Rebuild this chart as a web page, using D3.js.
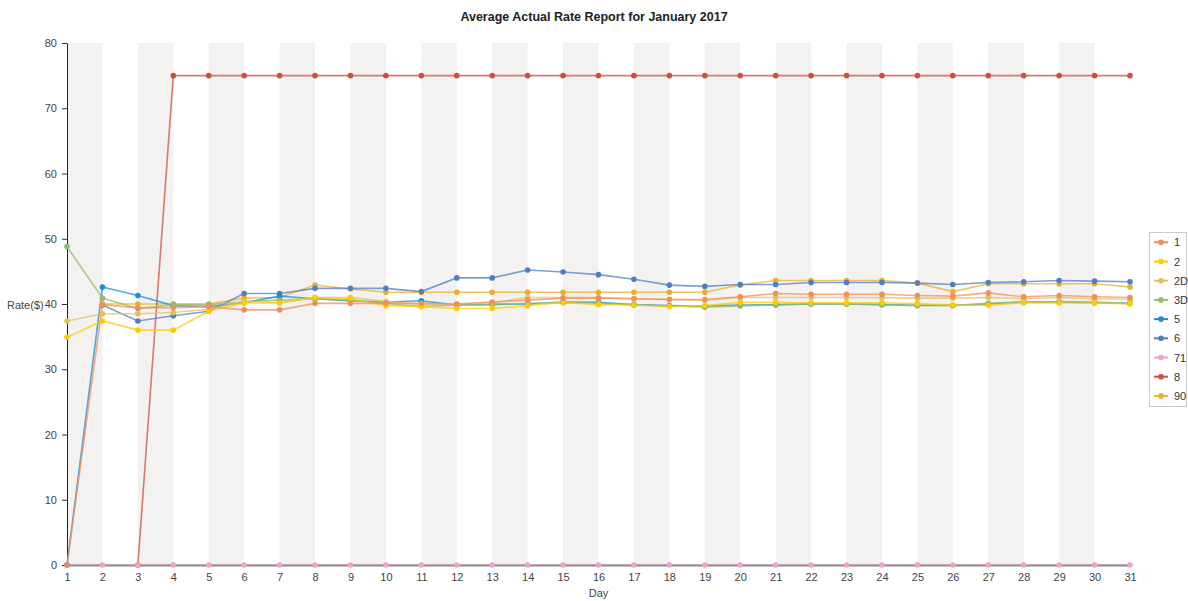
<!DOCTYPE html>
<html><head><meta charset="utf-8">
<script src="https://cdn.jsdelivr.net/npm/d3@7"></script>
<style>body{margin:0;background:#fff}svg{display:block}text{font-family:"Liberation Sans",Arial,sans-serif}</style>
</head><body><div id="c"></div>
<script>
const days = d3.range(1, 32);
const seriesNames = ["1","2","2D","3D","5","6","71","8","90"];
const seriesColors = ["#F58C5B","#FFCB05","#E3C15E","#8CBD6B","#1A8DD6","#4F7FC0","#F0A3C5","#C9523C","#ECAE2E"];
const yTicks = [0,10,20,30,40,50,60,70,80];
const titleText = "Average Actual Rate Report for January 2017";
const xLabel = "Day";
const yLabel = "Rate($)";

const s1  = [0,39.9,39.4,39.45,39.6,39.1,39.1,40.1,40.1,40.1,40.1,40.0,40.3,40.6,40.9,40.9,40.8,40.7,40.7,41.1,41.6,41.5,41.5,41.5,41.3,41.2,41.7,41.1,41.3,41.1,41.0];
const s2  = [34.9,37.4,36.0,36.0,38.9,40.15,40.15,41.0,40.8,39.75,39.6,39.3,39.3,39.75,40.25,39.9,39.85,39.6,39.75,40.25,40.25,40.2,40.2,40.2,40.05,39.85,39.8,40.2,40.15,40.15,40.0];
const s2D = [37.4,38.5,38.5,38.7,39.2,40.4,40.2,41.0,41.0,40.4,39.9,40.0,40.2,41.0,41.0,41.0,40.8,40.7,40.6,41.0,41.0,41.0,41.0,40.95,40.9,40.9,41.0,40.8,41.0,40.8,40.7];
const s3D = [48.8,40.9,39.3,39.9,39.9,40.35,40.6,40.8,40.6,40.1,39.6,39.85,39.9,40.1,40.2,40.1,39.85,39.7,39.5,39.7,39.85,40.0,40.0,39.9,39.75,39.75,40.1,40.35,40.35,40.3,40.1];
const s5  = [0,42.6,41.3,39.75,39.6,40.2,41.2,40.8,40.5,40.3,40.5,39.85,39.95,40.0,40.3,40.25,39.9,39.75,39.7,39.85,39.9,40.0,40.0,39.9,39.8,39.8,40.0,40.3,40.3,40.2,40.1];
const s6  = [null,39.85,37.4,38.2,38.9,41.6,41.6,42.4,42.4,42.4,41.9,44.0,44.0,45.2,44.9,44.5,43.8,42.9,42.7,43.0,43.0,43.3,43.3,43.3,43.2,43.0,43.3,43.4,43.6,43.5,43.4];
const s71 = days.map(() => 0);
const s8  = [null,null,0,75,75,75,75,75,75,75,75,75,75,75,75,75,75,75,75,75,75,75,75,75,75,75,75,75,75,75,75];
const s90 = [null,40.0,40.0,40.0,40.0,40.9,41.0,42.9,42.3,41.8,41.8,41.8,41.8,41.8,41.8,41.8,41.8,41.8,41.8,42.9,43.6,43.6,43.6,43.6,43.2,41.9,43.1,43.1,43.1,43.1,42.6];
const seriesValues = [s1,s2,s2D,s3D,s5,s6,s71,s8,s90];

const W = 1188, H = 601;
const m = {l:67, r:58, t:43, b:36};
const svg = d3.select("#c").append("svg").attr("width", W).attr("height", H);

const x = d3.scaleLinear().domain([1,31]).range([m.l, W - m.r]);
const y = d3.scaleLinear().domain([0,80]).range([H - m.b, m.t]);

// alternating bands
const bandStarts = days.filter(d => d % 2 === 1 && d < 31);
svg.append("g").selectAll("rect").data(bandStarts).join("rect")
  .attr("x", d => x(d)).attr("width", d => x(d+1) - x(d))
  .attr("y", y(80)).attr("height", y(0) - y(80))
  .attr("fill", "#F3F2F1");

// title
svg.append("text").attr("x", W/2).attr("y", 21).attr("text-anchor","middle")
  .attr("font-size", 12.5).attr("font-weight","bold").attr("fill","#222").text(titleText);

// y axis
const ya = svg.append("g").attr("transform", `translate(${m.l},0)`)
  .call(d3.axisLeft(y).tickValues(yTicks).tickSize(5).tickSizeOuter(0).tickPadding(5));
ya.select(".domain").attr("stroke","#222");
ya.selectAll(".tick line").attr("stroke","#333");
ya.selectAll("text").attr("font-size", 11).attr("fill","#444").style("font-family","'Liberation Sans',Arial,sans-serif");

svg.append("text").attr("x", x(16)).attr("y", 597).attr("text-anchor","middle")
  .attr("font-size", 11).attr("fill","#444").text(xLabel);
svg.append("text").attr("x", 7).attr("y", 309).attr("text-anchor","start")
  .attr("font-size", 11).attr("fill","#444").text(yLabel);

// series lines (reverse order so first series on top)
const line = d3.line().defined(d => d.v !== null).x(d => x(d.day)).y(d => y(d.v));
const order = d3.range(seriesNames.length).reverse();
const ptsAll = seriesValues.map(vals => days.map((d, j) => ({day: d, v: vals[j]})));
const linesG = svg.append("g");
order.forEach(i => {
  linesG.append("path").datum(ptsAll[i]).attr("d", line).attr("fill","none")
    .attr("stroke", seriesColors[i]).attr("stroke-width", 1.6).attr("stroke-opacity", 0.75);
});

// x axis (over lines, under points)
const xa = svg.append("g").attr("transform", `translate(0,${y(0)})`)
  .call(d3.axisBottom(x).tickValues(days).tickFormat(d3.format("d")).tickSize(0).tickPadding(8));
xa.select(".domain").attr("stroke","#8E8E8E").attr("stroke-width",2);
xa.selectAll("text").attr("font-size", 11).attr("fill","#444").style("font-family","'Liberation Sans',Arial,sans-serif");

// points
order.forEach(i => {
  svg.append("g").selectAll("circle").data(ptsAll[i].filter(p => p.v !== null)).join("circle")
    .attr("cx", p => x(p.day)).attr("cy", p => y(p.v)).attr("r", 2.8)
    .attr("fill", seriesColors[i]);
});

// legend
const lg = svg.append("g");
lg.append("rect").attr("x", 1149.5).attr("y", 232.5).attr("width", 37).attr("height", 174)
  .attr("fill","#fff").attr("stroke","#ccc");
seriesNames.forEach((n, i) => {
  const yy = 242.3 + i * 19.2;
  lg.append("line").attr("x1", 1154).attr("x2", 1168).attr("y1", yy).attr("y2", yy)
    .attr("stroke", seriesColors[i]).attr("stroke-width", 2);
  lg.append("circle").attr("cx", 1161).attr("cy", yy).attr("r", 2.8).attr("fill", seriesColors[i]);
  lg.append("text").attr("x", 1174).attr("y", yy + 4).attr("font-size", 11).attr("fill","#333").text(n);
});
</script></body></html>
